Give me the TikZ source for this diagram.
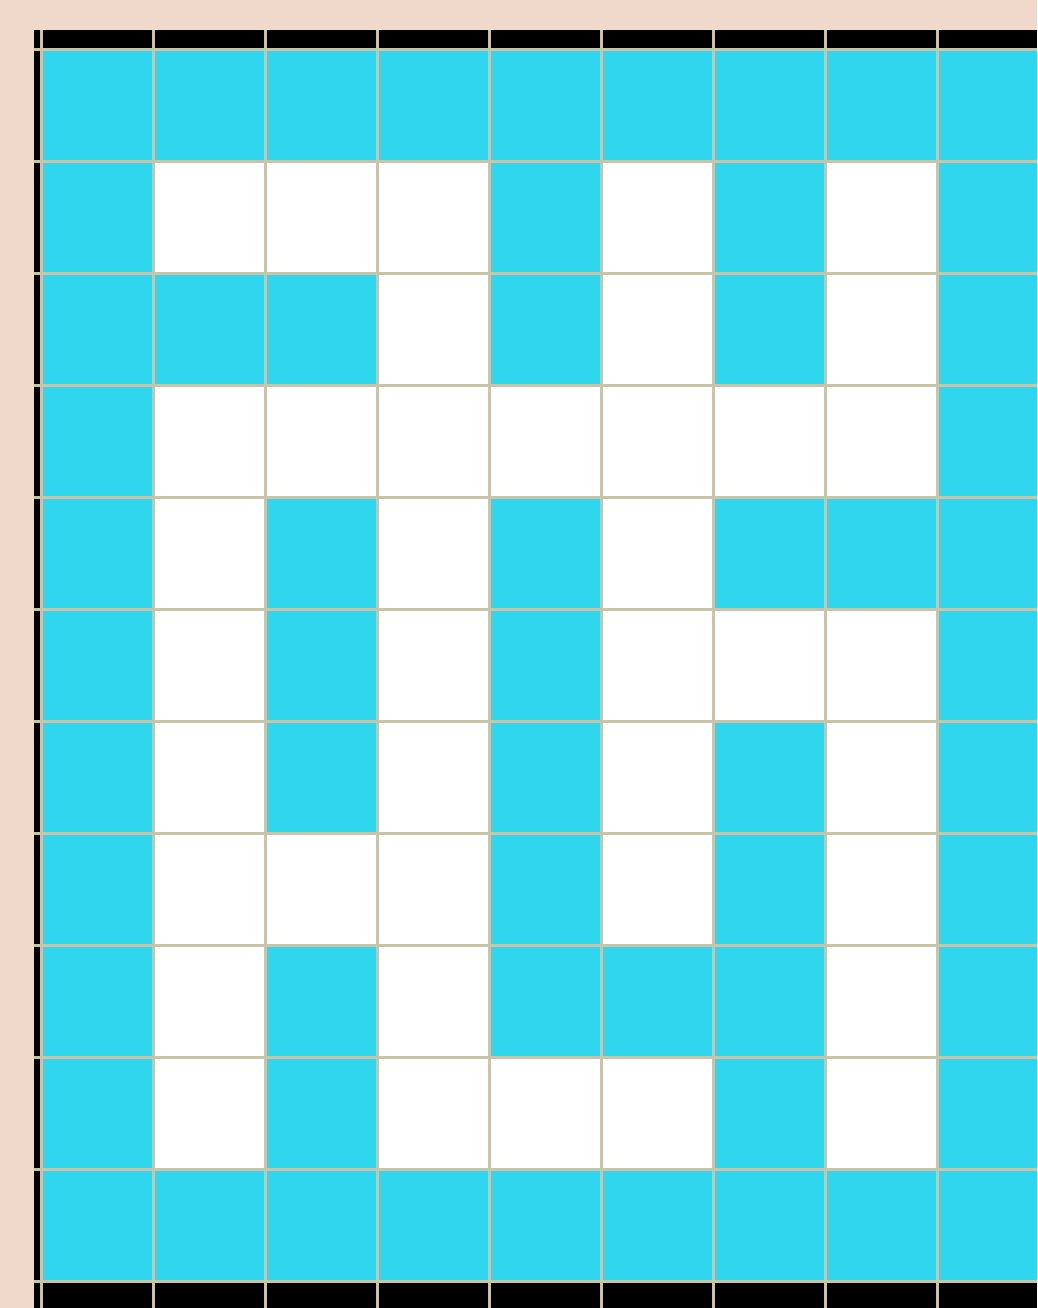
\documentclass[tikz,border=0pt]{standalone}
\definecolor{bgbeige}{HTML}{EED9CB}
\definecolor{cellcyan}{HTML}{30D5EE}
\definecolor{gridtan}{HTML}{C9C3A7}
\tikzset{gridline/.style={draw=gridtan,line width=2.2pt}}
\begin{document}
\begin{tikzpicture}[x=1pt,y=-1pt]
\useasboundingbox (0,0) rectangle (1037,1308);
\fill[bgbeige] (0,0) rectangle (1037,1308);
\fill[black] (34,30) rectangle (1037,1308);
\fill[cellcyan] (41.5,49.5) rectangle (1037,1281.5);
% white cells: row/col
\foreach \r/\c in {1/1,1/2,1/3,1/5,1/7,
                   2/3,2/5,2/7,
                   3/1,3/2,3/3,3/4,3/5,3/6,3/7,
                   4/1,4/3,4/5,
                   5/1,5/3,5/5,5/6,5/7,
                   6/1,6/3,6/5,6/7,
                   7/1,7/2,7/3,7/5,7/7,
                   8/1,8/3,8/7,
                   9/1,9/3,9/4,9/5,9/7}
  \fill[white] ({41.5+112*\c},{49.5+112*\r}) rectangle ++(112,112);
\foreach \k in {0,...,8}
  \draw[gridline] ({41.5+112*\k},30) -- ({41.5+112*\k},1308);
\foreach \k in {0,...,11}
  \draw[gridline] (34,{49.5+112*\k}) -- (1037,{49.5+112*\k});
\end{tikzpicture}
\end{document}
